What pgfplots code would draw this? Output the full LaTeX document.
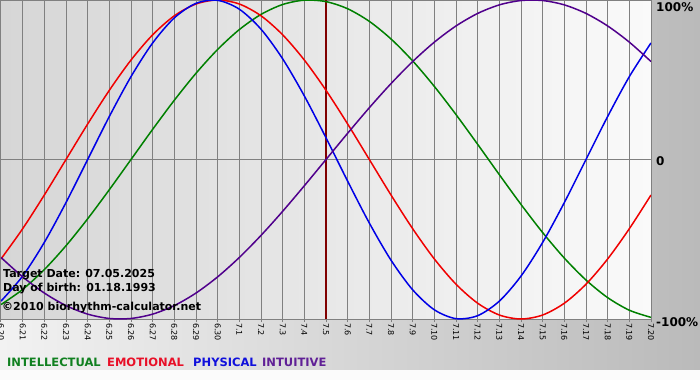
\documentclass[border=0pt]{standalone}
\usepackage{pgfplots}
\pgfplotsset{compat=1.18}
\usepackage{fontspec}
\setmainfont{DejaVu Sans}
\definecolor{cInt}{RGB}{0,128,0}
\definecolor{cEmo}{RGB}{240,0,0}
\definecolor{cPhy}{RGB}{0,0,230}
\definecolor{cIntu}{RGB}{80,0,140}
\definecolor{lInt}{RGB}{16,128,32}
\definecolor{lEmo}{RGB}{232,16,40}
\definecolor{lPhy}{RGB}{16,16,220}
\definecolor{lIntu}{RGB}{96,32,150}
\definecolor{tline}{RGB}{128,0,0}
\definecolor{gridc}{RGB}{128,128,128}
\begin{document}
\begin{tikzpicture}
\useasboundingbox (0,0) rectangle (700pt,-380pt);
\shade[left color={rgb,255:red,242;green,242;blue,242}, right color={rgb,255:red,186;green,186;blue,186}] (0,0) rectangle (700pt,-370pt);
\fill[white!97!gray] (0,-370pt) rectangle (700pt,-380pt);
\begin{axis}[
  at={(1pt,0pt)}, anchor=north west,
  width=650pt, height=319pt, scale only axis,
  xmin=0, xmax=30, ymin=-1, ymax=1,
  axis background/.style={left color={rgb,255:red,214;green,214;blue,214}, right color={rgb,255:red,250;green,250;blue,250}},
  axis line style={draw=gridc, line width=1pt},
  xtick={0,...,30},
  xticklabels={6.20,6.21,6.22,6.23,6.24,6.25,6.26,6.27,6.28,6.29,6.30,7.1,7.2,7.3,7.4,7.5,7.6,7.7,7.8,7.9,7.10,7.11,7.12,7.13,7.14,7.15,7.16,7.17,7.18,7.19,7.20},
  xticklabel style={rotate=-90, anchor=west, font=\fontsize{8}{8}\selectfont, inner sep=1pt},
  xtick align=outside, major tick length=3pt,
  tick style={draw=gridc, line width=1pt},
  ytick={0}, yticklabels={}, ytick style={draw=none},
  grid=major, grid style={draw=gridc, line width=1pt},
  every axis plot/.append style={line width=1.5pt, smooth, no markers},
]
\addplot[tline, line width=2pt, sharp plot] coordinates {(15,-1) (15,1)};
% Intellectual (33 days)
\addplot[cInt] coordinates {
(0,-0.9096)(1,-0.8146)(2,-0.6901)(3,-0.5406)(4,-0.3717)(5,-0.1893)(6,0)(7,0.1893)(8,0.3717)(9,0.5406)(10,0.6901)(11,0.8146)(12,0.9096)(13,0.9718)(14,0.9989)(15,0.9898)(16,0.9450)(17,0.8660)(18,0.7557)(19,0.6182)(20,0.4582)(21,0.2817)(22,0.0951)(23,-0.0951)(24,-0.2817)(25,-0.4582)(26,-0.6182)(27,-0.7557)(28,-0.8660)(29,-0.9450)(30,-0.9898)};
% Emotional (28 days)
\addplot[cEmo] coordinates {
(0,-0.6235)(1,-0.4339)(2,-0.2225)(3,0)(4,0.2225)(5,0.4339)(6,0.6235)(7,0.7818)(8,0.9010)(9,0.9749)(10,1)(11,0.9749)(12,0.9010)(13,0.7818)(14,0.6235)(15,0.4339)(16,0.2225)(17,0)(18,-0.2225)(19,-0.4339)(20,-0.6235)(21,-0.7818)(22,-0.9010)(23,-0.9749)(24,-1)(25,-0.9749)(26,-0.9010)(27,-0.7818)(28,-0.6235)(29,-0.4339)(30,-0.2225)};
% Physical (23 days)
\addplot[cPhy] coordinates {
(0,-0.8879)(1,-0.7308)(2,-0.5196)(3,-0.2698)(4,0)(5,0.2698)(6,0.5196)(7,0.7308)(8,0.8879)(9,0.9791)(10,0.9977)(11,0.9423)(12,0.8170)(13,0.6311)(14,0.3984)(15,0.1362)(16,-0.1362)(17,-0.3984)(18,-0.6311)(19,-0.8170)(20,-0.9423)(21,-0.9977)(22,-0.9791)(23,-0.8879)(24,-0.7308)(25,-0.5196)(26,-0.2698)(27,0)(28,0.2698)(29,0.5196)(30,0.7308)};
% Intuitive (38 days)
\addplot[cIntu] coordinates {
(0,-0.6142)(1,-0.7357)(2,-0.8372)(3,-0.9158)(4,-0.9694)(5,-0.9966)(6,-0.9966)(7,-0.9694)(8,-0.9158)(9,-0.8372)(10,-0.7357)(11,-0.6142)(12,-0.4759)(13,-0.3247)(14,-0.1646)(15,0)(16,0.1646)(17,0.3247)(18,0.4759)(19,0.6142)(20,0.7357)(21,0.8372)(22,0.9158)(23,0.9694)(24,0.9966)(25,0.9966)(26,0.9694)(27,0.9158)(28,0.8372)(29,0.7357)(30,0.6142)};
\end{axis}
\begin{scope}[every node/.style={inner sep=0pt}]
\node[anchor=north west, font=\bfseries\fontsize{12}{12}\selectfont] at (656pt,-2pt) {100\%};
\node[anchor=west, font=\bfseries\fontsize{12}{12}\selectfont] at (656pt,-161pt) {0};
\node[anchor=west, font=\bfseries\fontsize{12}{12}\selectfont] at (656pt,-322pt) {-100\%};
\node[anchor=base west, font=\bfseries\fontsize{11}{11}\selectfont] at (3pt,-277pt) {Target Date: 07.05.2025};
\node[anchor=base west, font=\bfseries\fontsize{11}{11}\selectfont] at (3pt,-291pt) {Day of birth: 01.18.1993};
\node[anchor=base west, font=\bfseries\fontsize{11}{11}\selectfont] at (2pt,-310pt) {©2010 biorhythm-calculator.net};
\node[anchor=base west, font=\bfseries\fontsize{11.5}{11.5}\selectfont, text=lInt] at (7pt,-366pt) {INTELLECTUAL};
\node[anchor=base west, font=\bfseries\fontsize{11.5}{11.5}\selectfont, text=lEmo] at (107pt,-366pt) {EMOTIONAL};
\node[anchor=base west, font=\bfseries\fontsize{11.5}{11.5}\selectfont, text=lPhy] at (193pt,-366pt) {PHYSICAL};
\node[anchor=base west, font=\bfseries\fontsize{11.5}{11.5}\selectfont, text=lIntu] at (262pt,-366pt) {INTUITIVE};
\end{scope}
\end{tikzpicture}
\end{document}
